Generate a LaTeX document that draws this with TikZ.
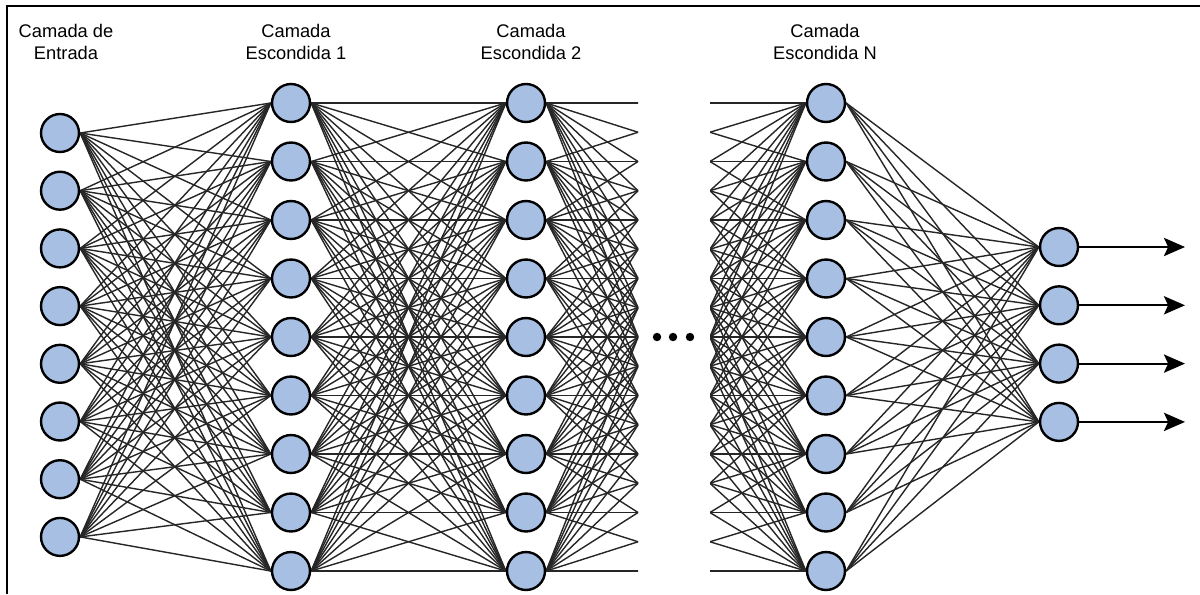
\documentclass[tikz,border=0pt]{standalone}
\usepackage{fontspec}
\setmainfont{Liberation Sans}
\usetikzlibrary{arrows.meta}
\definecolor{neuronfill}{RGB}{168,191,228}
\pgfdeclarelayer{background}
\pgfsetlayers{background,main}
\begin{document}
\begin{tikzpicture}[x=0.025cm,y=-0.025cm,
  neuron/.style={circle,draw=black,line width=1.7pt,fill=neuronfill,minimum size=27pt,inner sep=0pt},
  link/.style={draw=black!85,line width=1pt},
  outarrow/.style={line width=1.4pt,-{Stealth[length=15pt,width=13pt,inset=3pt]}},
  layerlabel/.style={font=\fontsize{13}{15}\selectfont,align=center,anchor=center},
  framerule/.style={line width=1.5pt},
  dotnode/.style={circle,fill=black,minimum size=6pt,inner sep=0pt}]
\useasboundingbox (0,0) rectangle (1200,594);
\draw[framerule] (7,594) -- (7,6) -- (1200,6);

% layer titles
\node[layerlabel] (tIn) at (66,42) {Camada de\\Entrada};
\node[layerlabel] (tH1) at (296,42) {Camada\\Escondida 1};
\node[layerlabel] (tH2) at (531,42) {Camada\\Escondida 2};
\node[layerlabel] (tHN) at (825,42) {Camada\\Escondida N};

% neurons
\foreach \i in {1,...,8}
  \node[neuron] (in\i) at (60,{133+57.7*(\i-1)}) {};
\foreach \i in {1,...,9} {
  \node[neuron] (ha\i) at (291,{103+58.5*(\i-1)}) {};
  \node[neuron] (hb\i) at (526,{103+58.5*(\i-1)}) {};
  \node[neuron] (hn\i) at (826,{103+58.5*(\i-1)}) {};
}
\foreach \i in {1,...,4}
  \node[neuron] (out\i) at (1059,{247+58.3*(\i-1)}) {};

% hidden layers that are left out: only half of each link is drawn
\foreach \k in {1,...,9} {
  \coordinate (vr\k) at (730,{103+58.5*(\k-1)});
  \coordinate (vl\k) at (614,{103+58.5*(\k-1)});
}

% output arrow tips
\foreach \i in {1,...,4}
  \coordinate (tip\i) at (1185,{247+58.3*(\i-1)});

% ellipsis between the hidden layers
\node[dotnode] (dot1) at (657,337) {};
\node[dotnode] (dot2) at (673,337) {};
\node[dotnode] (dot3) at (690,337) {};

\begin{pgfonlayer}{background}
  \foreach \a in {1,...,8}
    \foreach \b in {1,...,9}
      \draw[link] (in\a.east) -- (ha\b.west);
  \foreach \a in {1,...,9}
    \foreach \b in {1,...,9}
      \draw[link] (ha\a.east) -- (hb\b.west);
  \begin{scope}
    \clip (500,0) rectangle (638,594);
    \foreach \a in {1,...,9}
      \foreach \b in {1,...,9}
        \draw[link] (hb\a.east) -- (vr\b);
  \end{scope}
  \begin{scope}
    \clip (710,0) rectangle (850,594);
    \foreach \a in {1,...,9}
      \foreach \b in {1,...,9}
        \draw[link] (vl\a) -- (hn\b.west);
  \end{scope}
  \foreach \a in {1,...,9}
    \foreach \b in {1,...,4}
      \draw[link] (hn\a.east) -- (out\b.west);
\end{pgfonlayer}

\foreach \i in {1,...,4}
  \draw[outarrow] (out\i.east) -- (tip\i);
\end{tikzpicture}
\end{document}
